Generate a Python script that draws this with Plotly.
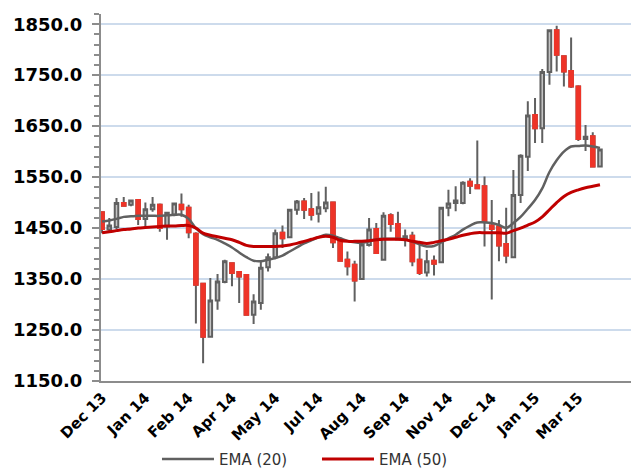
import pandas as pd
import plotly.graph_objects as go

# Weekly candles (Friday dates)
dates = pd.date_range("2013-12-06", periods=70, freq="7D")

open_ = [1481, 1447, 1452, 1499, 1496, 1505, 1468, 1487, 1496, 1453,
         1476, 1496, 1490, 1439, 1341, 1237, 1308, 1344, 1381, 1364,
         1358, 1280, 1303, 1373, 1393, 1441, 1432, 1486, 1502, 1487,
         1478, 1489, 1500, 1424, 1388, 1378, 1350, 1417, 1448, 1388,
         1475, 1458, 1427, 1435, 1388, 1363, 1386, 1383, 1490, 1499,
         1499, 1541, 1534, 1532, 1455, 1453, 1419, 1393, 1515, 1590,
         1672, 1646, 1756, 1838, 1787, 1758, 1728, 1625, 1630, 1571]
high = [1483, 1470, 1509, 1511, 1506, 1507, 1500, 1511, 1498, 1482,
        1500, 1518, 1496, 1442, 1341, 1352, 1360, 1388, 1383, 1366,
        1360, 1320, 1384, 1400, 1447, 1455, 1488, 1505, 1509, 1519,
        1522, 1531, 1502, 1426, 1404, 1386, 1420, 1470, 1460, 1481,
        1479, 1482, 1447, 1443, 1417, 1407, 1396, 1492, 1525, 1532,
        1542, 1548, 1622, 1551, 1505, 1466, 1490, 1564, 1595, 1699,
        1705, 1762, 1840, 1847, 1789, 1824, 1730, 1652, 1638, 1605]
low = [1440, 1443, 1447, 1493, 1493, 1456, 1452, 1482, 1443, 1427,
       1473, 1472, 1430, 1263, 1185, 1236, 1290, 1342, 1336, 1303,
       1278, 1262, 1290, 1365, 1389, 1411, 1430, 1476, 1468, 1465,
       1461, 1481, 1411, 1384, 1357, 1306, 1348, 1414, 1400, 1386,
       1443, 1427, 1414, 1375, 1358, 1355, 1357, 1381, 1473, 1483,
       1497, 1517, 1526, 1414, 1310, 1385, 1381, 1391, 1499, 1562,
       1617, 1617, 1731, 1757, 1728, 1725, 1621, 1601, 1569, 1570]
close = [1448, 1455, 1499, 1494, 1504, 1468, 1487, 1496, 1450, 1480,
         1498, 1487, 1442, 1339, 1237, 1308, 1345, 1385, 1362, 1355,
         1280, 1306, 1372, 1393, 1440, 1430, 1486, 1502, 1486, 1476,
         1491, 1500, 1422, 1386, 1375, 1347, 1418, 1447, 1401, 1474,
         1458, 1428, 1434, 1385, 1362, 1385, 1380, 1490, 1498, 1504,
         1539, 1533, 1528, 1463, 1448, 1416, 1396, 1515, 1592, 1671,
         1646, 1756, 1838, 1790, 1757, 1728, 1625, 1629, 1571, 1604]

ema20 = [1463, 1465, 1468, 1472, 1473, 1474, 1474, 1474, 1474, 1475,
         1476, 1476, 1468, 1450, 1438, 1432, 1427, 1420, 1412, 1402,
         1393, 1386, 1385, 1388, 1391, 1396, 1404, 1412, 1420, 1426,
         1432, 1437, 1435, 1430, 1425, 1422, 1421, 1424, 1428, 1429,
         1429, 1429, 1428, 1423, 1418, 1414, 1415, 1422, 1430, 1437,
         1447, 1455, 1461, 1461, 1460, 1456, 1450, 1460, 1472, 1488,
         1505, 1528, 1560, 1583, 1600, 1610, 1611, 1612, 1610, 1607]
ema50 = [1441, 1443, 1445, 1447, 1448, 1450, 1451, 1452, 1453, 1454,
         1454, 1455, 1455, 1450, 1440, 1436, 1433, 1430, 1427, 1422,
         1416, 1414, 1414, 1414, 1414, 1415, 1417, 1420, 1424, 1428,
         1432, 1434, 1432, 1426, 1424, 1424, 1424, 1425, 1427, 1428,
         1428, 1428, 1427, 1424, 1422, 1420, 1422, 1425, 1428, 1432,
         1436, 1439, 1441, 1441, 1441, 1441, 1440, 1445, 1450, 1456,
         1462, 1472, 1486, 1500, 1512, 1520, 1525, 1529, 1532, 1535]

tick_labels = ["Dec 13", "Jan 14", "Feb 14", "Apr 14", "May 14", "Jul 14",
               "Aug 14", "Sep 14", "Nov 14", "Dec 14", "Jan 15", "Mar 15"]
tick_every = 6

GRAY = "#606060"
FILL = "#c4c4c4"
RED = "#ee3428"

fig = go.Figure()

# full candles: grey wicks & outlines
fig.add_trace(go.Candlestick(
    x=dates, open=open_, high=high, low=low, close=close,
    increasing=dict(line=dict(color=GRAY, width=2), fillcolor=FILL),
    decreasing=dict(line=dict(color=GRAY, width=2), fillcolor=RED),
    showlegend=False, hoverinfo="skip"))

# red bodies on top of falling candles
dn = [i for i in range(len(dates)) if close[i] < open_[i]]
fig.add_trace(go.Candlestick(
    x=[dates[i] for i in dn],
    open=[open_[i] for i in dn], close=[close[i] for i in dn],
    high=[open_[i] for i in dn], low=[close[i] for i in dn],
    increasing=dict(line=dict(color=RED, width=2), fillcolor=RED),
    decreasing=dict(line=dict(color=RED, width=2), fillcolor=RED),
    showlegend=False, hoverinfo="skip"))

fig.add_trace(go.Scatter(x=dates, y=ema20, mode="lines", name="EMA (20)",
                         line=dict(color=GRAY, width=2.5, shape="spline")))
fig.add_trace(go.Scatter(x=dates, y=ema50, mode="lines", name="EMA (50)",
                         line=dict(color="#c00000", width=3, shape="spline")))

week = pd.Timedelta(days=7)
fig.update_layout(
    width=633, height=468,
    margin=dict(l=101, r=2, t=14, b=87),
    paper_bgcolor="white", plot_bgcolor="white",
    font=dict(family="DejaVu Sans", color="#000000"),
    legend=dict(orientation="h", xref="container", yref="container",
                x=0.248, xanchor="left", y=0.054, yanchor="top",
                font=dict(size=15, color="#333333"), itemwidth=52,
                entrywidth=93,
                bgcolor="rgba(0,0,0,0)"),
    xaxis=dict(
        type="date", automargin=False,
        range=[dates[0] - 0.15 * week, dates[0] + 73.3 * week],
        rangeslider=dict(visible=False),
        tickvals=list(dates[::tick_every]), ticktext=tick_labels,
        tickangle=-45, tickfont=dict(size=15, family="DejaVu Sans", color="#000000", weight="bold"),
        showgrid=False, zeroline=False,
        showline=True, linecolor="#8c8c8c", linewidth=2,
        ticks="",
    ),
    yaxis=dict(
        automargin=False,
        range=[1150, 1870],
        tick0=1150, dtick=100, tickformat=".1f",
        tickfont=dict(size=18, family="DejaVu Sans", color="#000000", weight="bold"),
        showgrid=True, gridcolor="#cddbec", gridwidth=2,
        zeroline=False,
        showline=True, linecolor="#8c8c8c", linewidth=2,
        ticks="outside", ticklen=7, tickwidth=2, tickcolor="#8c8c8c",
        ticklabelstandoff=6,
        minor=dict(dtick=20, tick0=1150, ticks="outside", ticklen=5, tickwidth=2,
                   tickcolor="#8c8c8c", showgrid=False),
    ),
)

fig.write_html("out.html", config={"displayModeBar": False},
               post_script="document.body.style.margin='0';")
